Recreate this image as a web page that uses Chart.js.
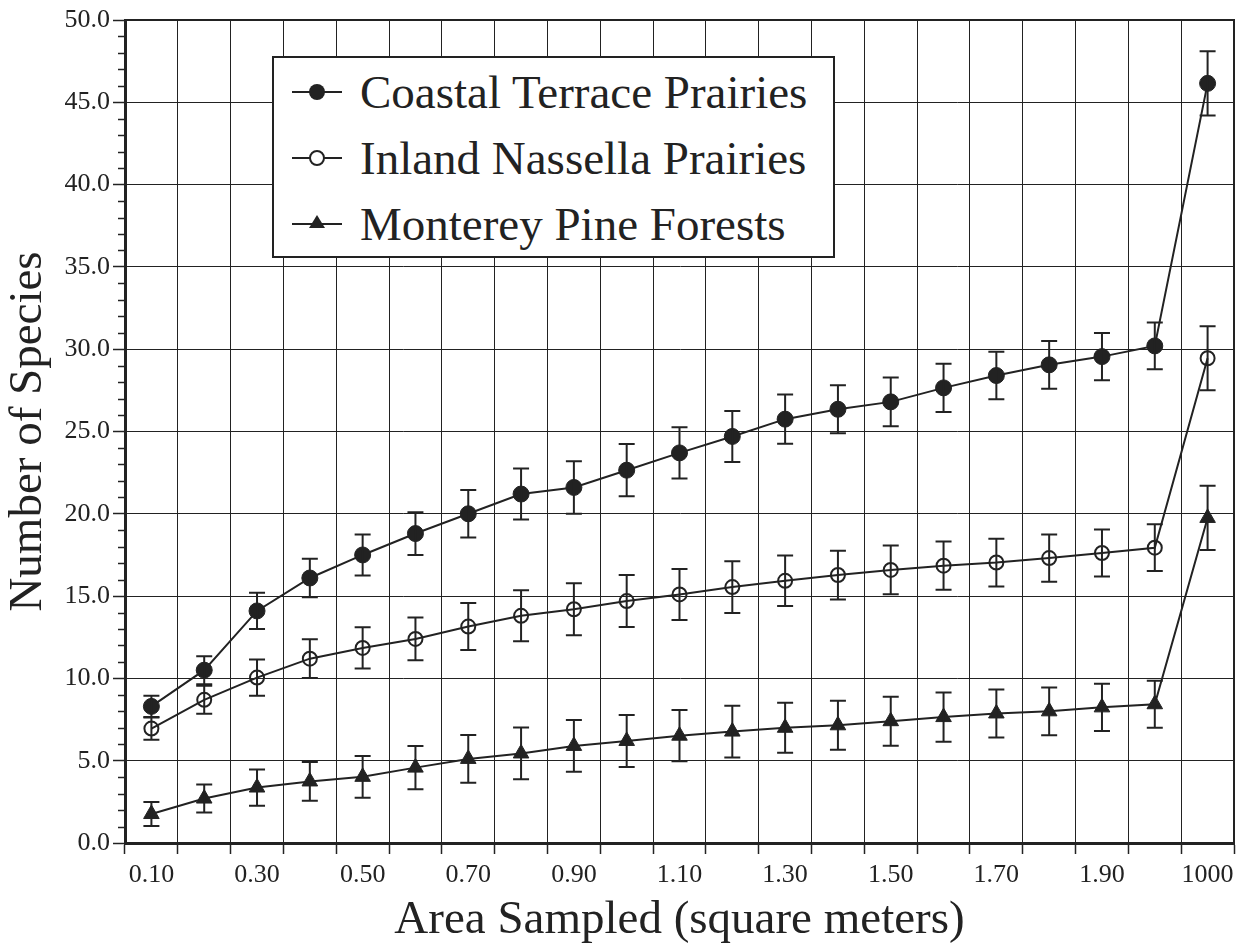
<!DOCTYPE html>
<html>
<head>
<meta charset="utf-8">
<script src="https://cdn.jsdelivr.net/npm/chart.js@4/dist/chart.umd.min.js"></script>
<style>
html,body{margin:0;padding:0;background:#fff;}
#wrap{position:relative;width:1245px;height:951px;}
#legend{position:absolute;left:272px;top:56px;width:559px;height:198px;border:2px solid #222;background:#fff;
font-family:'Liberation Serif',serif;font-size:47px;color:#222;}
.row{position:absolute;left:0;height:60px;display:flex;align-items:center;}
.row svg{margin-left:18px;margin-right:18px;}
</style>
</head>
<body>
<div id="wrap">
<canvas id="chart" width="1245" height="951"></canvas>
<div id="legend"></div>
</div>
<script>
const categories = ['0.10','0.20','0.30','0.40','0.50','0.60','0.70','0.80','0.90','1.00',
'1.10','1.20','1.30','1.40','1.50','1.60','1.70','1.80','1.90','2.00','1000'];

const coastal = [8.3,10.5,14.1,16.1,17.5,18.8,20.0,21.2,21.6,22.65,23.7,24.7,25.75,26.35,26.8,27.65,28.4,29.05,29.55,30.2,46.15];
const coastalErr = [0.65,0.85,1.1,1.17,1.25,1.3,1.44,1.55,1.6,1.59,1.56,1.55,1.5,1.46,1.48,1.46,1.44,1.45,1.43,1.42,1.95];

const inland = [6.95,8.7,10.05,11.2,11.85,12.4,13.15,13.8,14.2,14.7,15.1,15.55,15.93,16.28,16.59,16.85,17.04,17.31,17.62,17.94,29.45];
const inlandErr = [0.67,0.85,1.1,1.18,1.25,1.3,1.43,1.55,1.58,1.58,1.55,1.57,1.53,1.48,1.48,1.47,1.45,1.44,1.43,1.42,1.95];

const monterey = [1.76,2.7,3.37,3.74,4.02,4.58,5.11,5.44,5.9,6.2,6.52,6.77,7.0,7.15,7.4,7.65,7.87,8.0,8.24,8.43,19.75];
const montereyErr = [0.73,0.85,1.1,1.18,1.27,1.32,1.45,1.57,1.57,1.58,1.56,1.57,1.52,1.49,1.49,1.5,1.46,1.45,1.43,1.43,1.95];

const seriesNames = ['Coastal Terrace Prairies','Inland Nassella Prairies','Monterey Pine Forests'];

const ink = '#222';

Chart.defaults.font.family = "'Liberation Serif', serif";
Chart.defaults.color = ink;

// error bars, drawn under the markers
const errorBars = {
id:'errorBars',
afterDatasetsDraw(chart){
const ctx = chart.ctx, y = chart.scales.y;
ctx.save();
ctx.strokeStyle = ink;
ctx.lineWidth = 2;
chart.data.datasets.forEach((ds,di)=>{
const meta = chart.getDatasetMeta(di);
meta.data.forEach((pt,i)=>{
const e = ds.errors[i];
const top = y.getPixelForValue(ds.data[i]+e);
const bot = y.getPixelForValue(ds.data[i]-e);
ctx.beginPath();
ctx.moveTo(pt.x,top); ctx.lineTo(pt.x,bot);
ctx.moveTo(pt.x-8,top); ctx.lineTo(pt.x+8,top);
ctx.moveTo(pt.x-8,bot); ctx.lineTo(pt.x+8,bot);
ctx.stroke();
});
});
ctx.restore();
}
};

// frame on top/right and short minor ticks on y
const frame = {
id:'frame',
afterDraw(chart){
const ctx = chart.ctx, a = chart.chartArea, y = chart.scales.y;
ctx.save();
ctx.strokeStyle = ink;
ctx.lineWidth = 2;
ctx.beginPath();
ctx.moveTo(a.left,a.top); ctx.lineTo(a.right,a.top); ctx.lineTo(a.right,a.bottom);
ctx.stroke();
ctx.lineWidth = 1.5;
ctx.beginPath();
for(let v=0; v<=50; v++){
if(v%5===0) continue;
const p = Math.round(y.getPixelForValue(v))+0.5;
ctx.moveTo(a.left-7,p); ctx.lineTo(a.left,p);
}
ctx.stroke();
ctx.restore();
}
};

const chart = new Chart(document.getElementById('chart'),{
type:'line',
data:{
labels:categories,
datasets:[
{label:seriesNames[0],data:coastal,errors:coastalErr,borderColor:ink,borderWidth:2,
pointStyle:'circle',pointRadius:8,pointBackgroundColor:ink,pointBorderColor:ink,pointBorderWidth:1},
{label:seriesNames[1],data:inland,errors:inlandErr,borderColor:ink,borderWidth:2,
pointStyle:'circle',pointRadius:7,pointBackgroundColor:'rgba(0,0,0,0)',pointBorderColor:ink,pointBorderWidth:2},
{label:seriesNames[2],data:monterey,errors:montereyErr,borderColor:ink,borderWidth:2,
pointStyle:'triangle',pointRadius:9,pointBackgroundColor:ink,pointBorderColor:ink,pointBorderWidth:1}
]
},
options:{
responsive:false,
animation:false,
layout:{padding:{top:20,right:11,left:0,bottom:0}},
plugins:{legend:{display:false},tooltip:{enabled:false}},
scales:{
x:{
offset:true,
grid:{offset:true,color:ink,lineWidth:1,tickLength:11,tickColor:ink,tickWidth:1.5},
border:{color:ink,width:3},
ticks:{autoSkip:false,maxRotation:0,padding:6,font:{size:26},
callback:function(v,i){return i%2===0 ? this.getLabelForValue(v) : '';}},
title:{display:true,text:'Area Sampled (square meters)',font:{size:47},padding:{top:0,bottom:2}},
afterFit(s){s.height = 108;}
},
y:{
min:0,max:50,
grid:{color:c=>c.tick.value%5===0 ? ink : 'rgba(0,0,0,0)',lineWidth:1,tickLength:12,
tickColor:c=>c.tick.value%5===0 ? ink : 'rgba(0,0,0,0)',tickWidth:1.5},
border:{color:ink,width:3},
ticks:{stepSize:1,autoSkip:false,padding:3,font:{size:26},
callback:v=>v%5===0 ? v.toFixed(1) : ''},
title:{display:true,text:'Number of Species',font:{size:47},padding:{top:0,bottom:0}},
afterFit(s){s.width = 125;}
}
}
},
plugins:[errorBars,frame]
});

// legend box with the same markers
const markers = [
'<circle cx="25" cy="12" r="8" fill="#222"/>',
'<circle cx="25" cy="12" r="7" fill="#fff" stroke="#222" stroke-width="2"/>',
'<polygon points="25,3 33,16 17,16" fill="#222"/>'
];
const legend = document.getElementById('legend');
seriesNames.forEach((n,i)=>{
const row = document.createElement('div');
row.className = 'row';
row.style.top = (4 + i*66) + 'px';
row.innerHTML = '<svg width="50" height="24"><line x1="0" y1="12" x2="50" y2="12" stroke="#222" stroke-width="2"/>' +
markers[i] + '</svg><span>' + n + '</span>';
legend.appendChild(row);
});
</script>
</body>
</html>
